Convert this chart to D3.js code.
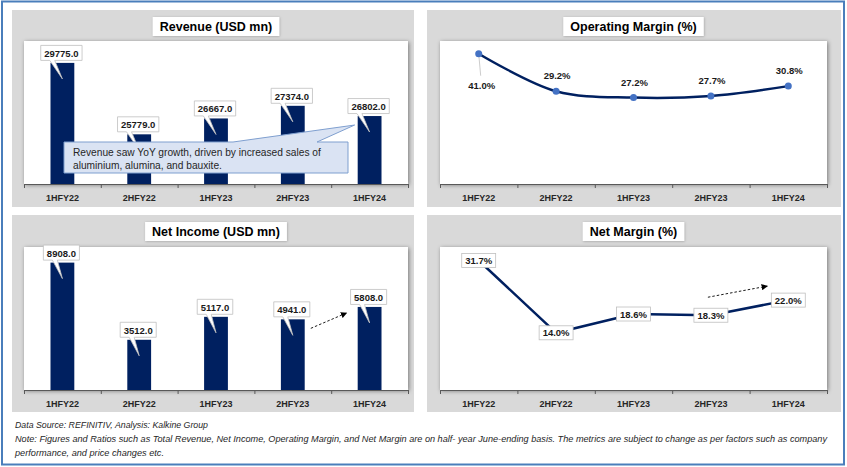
<!DOCTYPE html>
<html>
<head>
<meta charset="utf-8">
<script src="https://cdn.jsdelivr.net/npm/d3@7"></script>
<style>
  html, body { margin: 0; padding: 0; background: #fff; }
  svg { display: block; font-family: "Liberation Sans", Arial, sans-serif; }
</style>
</head>
<body>
<div id="chart"></div>
<script>
// data
const categories = ["1HFY22", "2HFY22", "1HFY23", "2HFY23", "1HFY24"];
const revenue = [29775, 25779, 26667, 27374, 26802];
const netIncome = [8908, 3512, 5117, 4941, 5808];
const operatingMargin = [41.0, 29.2, 27.2, 27.7, 30.8];
const netMargin = [31.7, 14.0, 18.6, 18.3, 22.0];

const revenueDomain = [23000, 31000];
const netIncomeDomain = [0, 10000];
const opMarginDomain = [0, 45];
const netMarginDomain = [0, 35];

const revenueNote = ["Revenue saw YoY growth, driven by increased sales of",
                     "aluminium, alumina, and bauxite."];
const footer = [
  "Data Source: REFINITIV, Analysis: Kalkine Group",
  "Note: Figures and Ratios such as Total Revenue, Net Income, Operating Margin, and Net Margin are on half- year June-ending basis. The metrics are subject to change as per factors such as company",
  "performance, and price changes etc."
];

const W = 847, H = 467;
const navy = "#002060";

const svg = d3.select("#chart").append("svg")
  .attr("width", W).attr("height", H);

const defs = svg.append("defs");
defs.append("filter").attr("id", "shadow")
  .attr("x", "-5%").attr("y", "-10%").attr("width", "110%").attr("height", "120%")
  .append("feDropShadow")
  .attr("dx", 1).attr("dy", 1).attr("stdDeviation", 2)
  .attr("flood-color", "#000").attr("flood-opacity", 0.45);
defs.append("filter").attr("id", "softShadow")
  .attr("x", "-10%").attr("y", "-20%").attr("width", "120%").attr("height", "140%")
  .append("feDropShadow")
  .attr("dx", 0.5).attr("dy", 0.5).attr("stdDeviation", 0.8)
  .attr("flood-color", "#000").attr("flood-opacity", 0.25);
defs.append("marker").attr("id", "arrow")
  .attr("viewBox", "0 0 10 10").attr("refX", 9).attr("refY", 5)
  .attr("markerWidth", 7).attr("markerHeight", 7).attr("orient", "auto")
  .append("path").attr("d", "M0,0 L10,5 L0,10 Z").attr("fill", "#000");

// outer frame
svg.append("rect")
  .attr("x", 2).attr("y", 1.5).attr("width", 842).attr("height", 463)
  .attr("fill", "#fff").attr("stroke", "#4A7EBB").attr("stroke-width", 2);

// builds the gray panel, white plot area, title and category axis
function panel(box, plot, title, domain) {
  const g = svg.append("g");
  g.append("rect")
    .attr("x", box.x).attr("y", box.y).attr("width", box.w).attr("height", box.h)
    .attr("fill", "#D9D9D9");
  g.append("rect")
    .attr("x", plot.x).attr("y", plot.y).attr("width", plot.w).attr("height", plot.h)
    .attr("fill", "#fff").attr("filter", "url(#shadow)");

  const x = d3.scaleBand().domain(categories)
    .range([plot.x, plot.x + plot.w]).paddingInner(0.69).paddingOuter(0.345);
  const y = d3.scaleLinear().domain(domain).range([plot.y + plot.h, plot.y]);

  // tick marks sit between categories
  const edge = d3.scaleLinear().domain([0, categories.length]).range([plot.x, plot.x + plot.w]);
  g.append("g")
    .attr("transform", `translate(0,${plot.y + plot.h})`)
    .call(d3.axisBottom(edge).ticks(categories.length).tickSize(4).tickFormat("").tickSizeOuter(4))
    .call(a => a.selectAll("path,line").attr("stroke", "#595959"));
  g.append("g")
    .attr("transform", `translate(0,${plot.y + plot.h})`)
    .call(d3.axisBottom(x).tickSize(0).tickPadding(11))
    .call(a => a.select(".domain").remove())
    .selectAll("text")
    .attr("font-family", "Liberation Sans, Arial, sans-serif")
    .attr("font-size", "9px").attr("font-weight", "bold").attr("fill", "#262626");

  // title box
  const cx = plot.x + plot.w / 2;
  const tg = g.append("g");
  const tRect = tg.append("rect").attr("fill", "#fff").attr("filter", "url(#softShadow)");
  const t = tg.append("text")
    .attr("x", cx).attr("y", box.y + 21)
    .attr("text-anchor", "middle")
    .attr("font-size", "12.5px").attr("font-weight", "bold").attr("fill", "#000")
    .text(title);
  const tw = t.node().getComputedTextLength();
  tRect.attr("x", cx - tw / 2 - 7).attr("y", box.y + 7).attr("width", tw + 14).attr("height", 19);

  return { g, x, y };
}

// white callout labels on top of bars
function barLabels(p, values) {
  values.forEach((v, i) => {
    const cx = p.x(categories[i]) + p.x.bandwidth() / 2;
    const top = p.y(v);
    const lg = p.g.append("g");
    const path = lg.append("path")
      .attr("fill", "#fff").attr("stroke", "#BFBFBF").attr("stroke-width", 0.8);
    const t = lg.append("text")
      .attr("x", cx - 1).attr("y", top - 6)
      .attr("text-anchor", "middle")
      .attr("font-size", "9.5px").attr("font-weight", "bold").attr("fill", "#1a1a1a")
      .text(v.toFixed(1));
    const w = t.node().getComputedTextLength() + 7;
    const l = cx - 1 - w / 2, r = l + w, b = top - 2.5, tp = b - 15;
    path.attr("d", `M${l},${tp} H${r} V${b} H${l + 14} L${cx},${top + 16} L${l + 9},${b} H${l} Z`);
  });
}

function barPanel(box, plot, title, domain, values) {
  const p = panel(box, plot, title, domain);
  p.g.append("g").selectAll("rect")
    .data(values)
    .enter().append("rect")
    .attr("x", (d, i) => p.x(categories[i]))
    .attr("y", d => p.y(d))
    .attr("width", p.x.bandwidth())
    .attr("height", d => p.y(domain[0]) - p.y(d))
    .attr("fill", navy);
  barLabels(p, values);
  return p;
}

const cxOf = (p, i) => p.x(categories[i]) + p.x.bandwidth() / 2;

function dashedArrow(p, from, to) {
  p.g.append("line")
    .attr("x1", from[0]).attr("y1", from[1]).attr("x2", to[0]).attr("y2", to[1])
    .attr("stroke", "#000").attr("stroke-width", 0.9)
    .attr("stroke-dasharray", "2.5,2")
    .attr("marker-end", "url(#arrow)");
}

// --- Revenue ---
const rev = barPanel({ x: 12, y: 10, w: 402, h: 197 }, { x: 24, y: 41, w: 384, h: 143 },
  "Revenue (USD mn)", revenueDomain, revenue);
{
  const tipX = cxOf(rev, 4) - 15, tipY = rev.y(revenue[4]) + 9;
  const bx = 64, by = 142, bw = 284, bh = 31;
  rev.g.append("path")
    .attr("d", `M${bx},${by} H${bx + 169} L${tipX},${tipY} L${bx + 253},${by} H${bx + bw} V${by + bh} H${bx} Z`)
    .attr("fill", "#DAE3F3").attr("stroke", "#7F9FCF").attr("stroke-width", 1);
  rev.g.selectAll(".note").data(revenueNote).enter().append("text")
    .attr("x", bx + 9).attr("y", (d, i) => by + 13.5 + i * 13)
    .attr("font-size", "10.2px").attr("fill", "#262626")
    .text(d => d);
}

// --- Net Income ---
const ni = barPanel({ x: 12, y: 215, w: 402, h: 197 }, { x: 24, y: 247, w: 384, h: 143 },
  "Net Income (USD mn)", netIncomeDomain, netIncome);
dashedArrow(ni, [cxOf(ni, 3) + 18, ni.y(netIncome[3]) + 9], [cxOf(ni, 4) - 23, ni.y(netIncome[4]) + 6]);

// --- Operating Margin ---
const om = panel({ x: 427, y: 10, w: 414, h: 197 }, { x: 440, y: 41, w: 387, h: 143 },
  "Operating Margin (%)", opMarginDomain);
{
  const pts = operatingMargin.map((v, i) => [cxOf(om, i), om.y(v)]);
  // leader line for the first label
  om.g.append("line")
    .attr("x1", pts[0][0]).attr("y1", pts[0][1])
    .attr("x2", pts[0][0] + 2).attr("y2", pts[0][1] + 22)
    .attr("stroke", "#BFBFBF").attr("stroke-width", 0.8);
  om.g.append("path")
    .attr("d", d3.line().curve(d3.curveCatmullRom.alpha(0.5))(pts))
    .attr("fill", "none").attr("stroke", navy).attr("stroke-width", 2.5);
  om.g.selectAll(".dot").data(pts).enter().append("circle")
    .attr("cx", d => d[0]).attr("cy", d => d[1]).attr("r", 3.5)
    .attr("fill", "#4472C4");
  om.g.selectAll(".lbl").data(operatingMargin).enter().append("text")
    .attr("x", (d, i) => pts[i][0] + (i === 0 ? 3 : 1))
    .attr("y", (d, i) => i === 0 ? pts[i][1] + 35 : pts[i][1] - 12)
    .attr("text-anchor", "middle")
    .attr("font-size", "9.5px").attr("font-weight", "bold").attr("fill", "#1a1a1a")
    .text(d => d.toFixed(1) + "%");
}

// --- Net Margin ---
const nm = panel({ x: 427, y: 215, w: 414, h: 197 }, { x: 440, y: 247, w: 387, h: 143 },
  "Net Margin (%)", netMarginDomain);
{
  const pts = netMargin.map((v, i) => [cxOf(nm, i), nm.y(v)]);
  nm.g.append("path")
    .attr("d", d3.line()(pts))
    .attr("fill", "none").attr("stroke", navy).attr("stroke-width", 2.5);
  dashedArrow(nm, [cxOf(nm, 3) - 3, nm.y(netMargin[3]) - 18], [cxOf(nm, 4) - 21, nm.y(netMargin[4]) - 14]);
  netMargin.forEach((v, i) => {
    const lg = nm.g.append("g");
    const r = lg.append("rect").attr("fill", "#fff").attr("stroke", "#BFBFBF").attr("stroke-width", 0.8);
    const t = lg.append("text")
      .attr("x", pts[i][0]).attr("y", pts[i][1] + 3.5)
      .attr("text-anchor", "middle")
      .attr("font-size", "9.5px").attr("font-weight", "bold").attr("fill", "#1a1a1a")
      .text(v.toFixed(1) + "%");
    const w = t.node().getComputedTextLength() + 7;
    r.attr("x", pts[i][0] - w / 2).attr("y", pts[i][1] - 7).attr("width", w).attr("height", 14);
  });
}

// footer notes
const footLen = [193, 812, 149];
svg.selectAll(".foot").data(footer).enter().append("text")
  .attr("x", 15).attr("y", (d, i) => 428 + i * 14)
  .attr("font-size", "9px").attr("font-style", "italic").attr("fill", "#262626")
  .attr("textLength", (d, i) => footLen[i]).attr("lengthAdjust", "spacingAndGlyphs")
  .text(d => d);
</script>
</body>
</html>
